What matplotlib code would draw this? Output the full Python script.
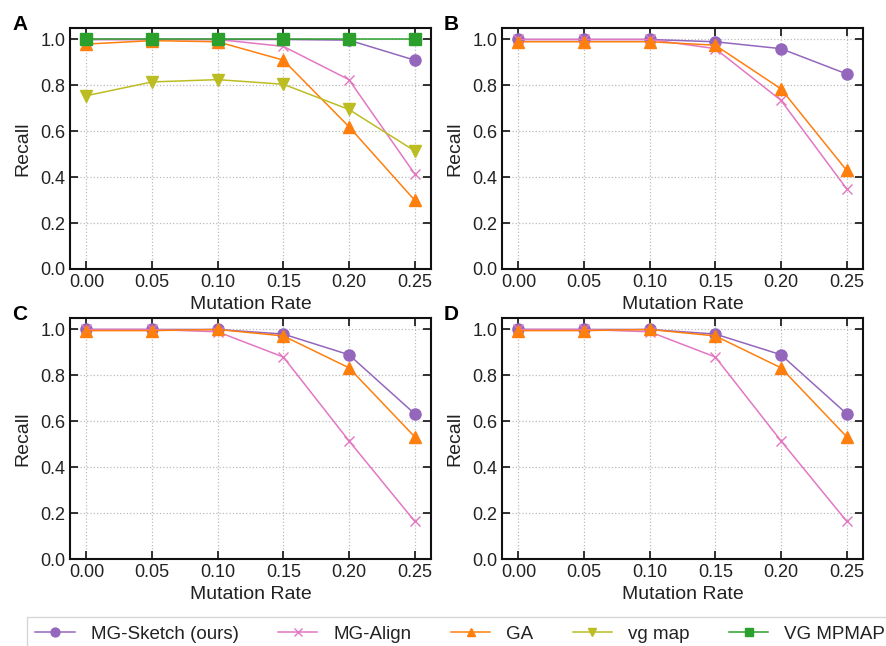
import matplotlib
matplotlib.use("Agg")
import matplotlib.pyplot as plt

plt.rcParams['font.family'] = ['Liberation Sans', 'DejaVu Sans']

rates = [0.00, 0.05, 0.10, 0.15, 0.20, 0.25]
tick_labels = ["0.00", "0.05", "0.10", "0.15", "0.20", "0.25"]

# panel A
a_sketch = [1.0, 1.0, 1.0, 1.0, 0.997, 0.91]
a_align = [1.0, 1.0, 1.0, 0.97, 0.825, 0.415]
a_ga = [0.98, 0.995, 0.99, 0.91, 0.62, 0.30]
a_vgmap = [0.755, 0.815, 0.825, 0.805, 0.695, 0.515]
a_mpmap = [1.0, 1.0, 1.0, 1.0, 1.0, 1.0]

# panel B
b_sketch = [1.0, 1.0, 1.0, 0.99, 0.96, 0.85]
b_align = [1.0, 1.0, 1.0, 0.96, 0.735, 0.35]
b_ga = [0.99, 0.99, 0.99, 0.975, 0.785, 0.43]

# panel C
c_sketch = [1.0, 1.0, 1.0, 0.98, 0.89, 0.633]
c_align = [1.0, 1.0, 0.99, 0.88, 0.515, 0.165]
c_ga = [0.995, 0.995, 1.0, 0.972, 0.833, 0.533]

# panel D
d_sketch = [1.0, 1.0, 1.0, 0.98, 0.89, 0.633]
d_align = [1.0, 1.0, 0.99, 0.88, 0.515, 0.165]
d_ga = [0.995, 0.995, 1.0, 0.972, 0.833, 0.533]

styles = {
    "MG-Sketch (ours)": dict(color="#9467bd", marker="o"),
    "MG-Align": dict(color="#e377c2", marker="x"),
    "GA": dict(color="#ff7f0e", marker="^"),
    "vg map": dict(color="#bcbd22", marker="v"),
    "VG MPMAP": dict(color="#2ca02c", marker="s"),
}

panels = [
    ("A", {"MG-Sketch (ours)": a_sketch, "MG-Align": a_align, "GA": a_ga,
           "vg map": a_vgmap, "VG MPMAP": a_mpmap}),
    ("B", {"MG-Sketch (ours)": b_sketch, "MG-Align": b_align, "GA": b_ga}),
    ("C", {"MG-Sketch (ours)": c_sketch, "MG-Align": c_align, "GA": c_ga}),
    ("D", {"MG-Sketch (ours)": d_sketch, "MG-Align": d_align, "GA": d_ga}),
]

fig = plt.figure(figsize=(8.86, 6.46), dpi=100)
W, H = 886, 646
boxes = [(70, 28, 431, 269), (502, 28, 863, 269),
         (70, 318, 431, 559), (502, 318, 863, 559)]

handles = {}
for (label, series), (x0, y0, x1, y1) in zip(panels, boxes):
    ax = fig.add_axes([x0 / W, 1 - y1 / H, (x1 - x0) / W, (y1 - y0) / H])
    for name, vals in series.items():
        st = styles[name]
        ms = 8 if st["marker"] != "x" else 7
        ln, = ax.plot(rates, vals, color=st["color"], marker=st["marker"],
                      markersize=ms, linewidth=1.1, label=name)
        handles[name] = ln
    ax.set_ylim(0, 1.05)
    ax.set_xticks(rates)
    ax.set_xticklabels(tick_labels)
    ax.set_yticks([0.0, 0.2, 0.4, 0.6, 0.8, 1.0])
    ax.set_yticklabels(["0.0", "0.2", "0.4", "0.6", "0.8", "1.0"])
    ax.grid(True, linestyle=":", color="#bbbbbb", linewidth=0.9)
    ax.tick_params(direction="in", length=6, width=1.3, labelsize=13,
                   top=True, right=True, colors="#222222", labelcolor="#222222")
    for sp in ax.spines.values():
        sp.set_linewidth(1.5)
        sp.set_color("#111111")
    ax.set_xlabel("Mutation Rate", fontsize=14, labelpad=4, color="#222222")
    ax.set_ylabel("Recall", fontsize=14, labelpad=6, color="#222222")
    fig.text((x0 - 58) / W, 1 - (y0 - 13) / H, label, fontsize=15,
             fontweight="bold", va="top", ha="left")

order = ["MG-Sketch (ours)", "MG-Align", "GA", "vg map", "VG MPMAP"]
fig.legend([handles[n] for n in order], order, loc="upper left",
           bbox_to_anchor=(27 / W, 1 - 617 / H), ncol=5, fontsize=13.5,
           frameon=True, fancybox=False, edgecolor="#cccccc",
           handlelength=2.1, handletextpad=0.85, columnspacing=2.1,
           borderpad=0.45, borderaxespad=0.0, markerscale=0.8,
           labelcolor="#222222")

fig.savefig("out.png", dpi=100)
